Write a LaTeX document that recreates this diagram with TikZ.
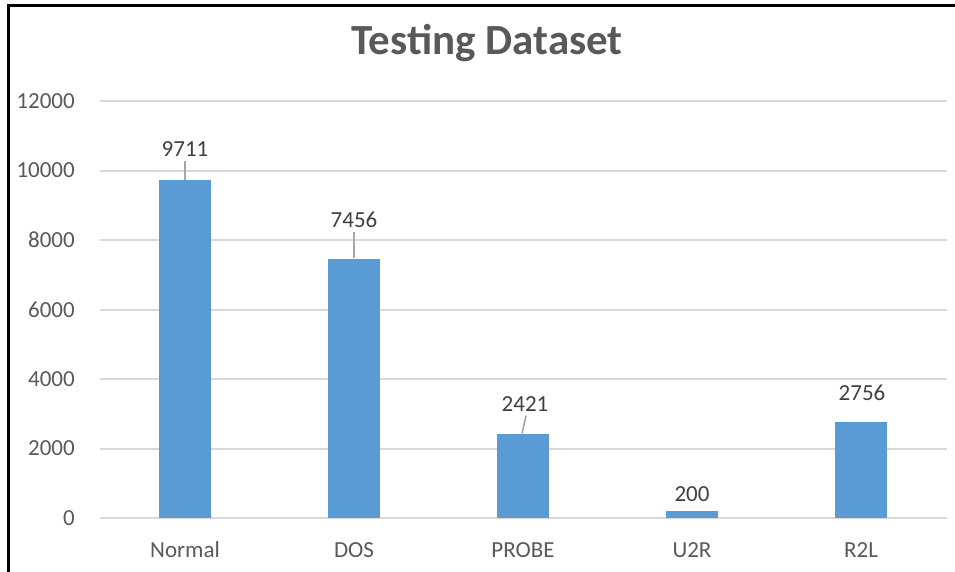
\documentclass[tikz,border=0pt]{standalone}
\usepackage{fontspec}
\setmainfont{Carlito}
\definecolor{barblue}{HTML}{5B9BD5}
\definecolor{gridgray}{HTML}{D9D9D9}
\definecolor{axistext}{HTML}{595959}
\definecolor{labeltext}{HTML}{404040}
\definecolor{leadergray}{HTML}{A6A6A6}
\tikzset{
  bar/.style={fill=barblue, draw=none, minimum width=52pt, inner sep=0pt, anchor=south},
  gridline/.style={draw=gridgray, line width=2pt},
  ticklabel/.style={text=axistext, font=\fontsize{23}{23}\selectfont, anchor=east, inner sep=0pt},
  catlabel/.style={text=axistext, font=\fontsize{23}{23}\selectfont, inner sep=0pt},
  vallabel/.style={text=labeltext, font=\fontsize{23}{23}\selectfont, inner sep=0pt},
  leader/.style={draw=leadergray, line width=1.6pt},
  frame/.style={draw=black, line width=3pt}
}
\begin{document}
\begin{tikzpicture}[x=1pt,y=1pt]
  \useasboundingbox (0,0) rectangle (955,572);
  % chart frame (top and left edges visible)
  \draw[frame] (8,0) -- (8,566.5) -- (955,566.5);
  % title
  \node[text=axistext, font=\fontsize{43}{43}\selectfont\bfseries] (title) at (487,529) {Testing Dataset};
  % horizontal gridlines and value axis labels
  \foreach \v/\lab in {0/0,2000/2000,4000/4000,6000/6000,8000/8000,10000/10000,12000/12000}{
    \pgfmathsetmacro{\yy}{54+\v*0.03475}
    \draw[gridline] (100,\yy) -- (947,\yy);
    \node[ticklabel] (tick\v) at (75,\yy) {\lab};
  }
  % bars
  \node[bar, minimum height=337.5pt] (bNormal) at (185,54) {};
  \node[bar, minimum height=259.1pt] (bDOS)    at (354,54) {};
  \node[bar, minimum height=84.1pt]  (bPROBE)  at (523,54) {};
  \node[bar, minimum height=6.95pt]  (bU2R)    at (692,54) {};
  \node[bar, minimum height=95.8pt]  (bR2L)    at (861,54) {};
  % data labels
  \node[vallabel] (vNormal) at (185,423) {9711};
  \node[vallabel] (vDOS)    at (354,352) {7456};
  \node[vallabel] (vPROBE)  at (525,168) {2421};
  \node[vallabel] (vU2R)    at (692,78)  {200};
  \node[vallabel] (vR2L)    at (862,179) {2756};
  % leader lines from labels to bars
  \draw[leader] (vNormal.south) ++(0,-4) -- (bNormal.north);
  \draw[leader] (vDOS.south) ++(0,-4) -- (bDOS.north);
  \draw[leader] (vPROBE.south) ++(1,-4) -- ([xshift=-1pt]bPROBE.north);
  % category labels
  \node[catlabel] (cNormal) at (185,22) {Normal};
  \node[catlabel] (cDOS)    at (354,22) {DOS};
  \node[catlabel] (cPROBE)  at (523,22) {PROBE};
  \node[catlabel] (cU2R)    at (692,22) {U2R};
  \node[catlabel] (cR2L)    at (861,22) {R2L};
\end{tikzpicture}
\end{document}
